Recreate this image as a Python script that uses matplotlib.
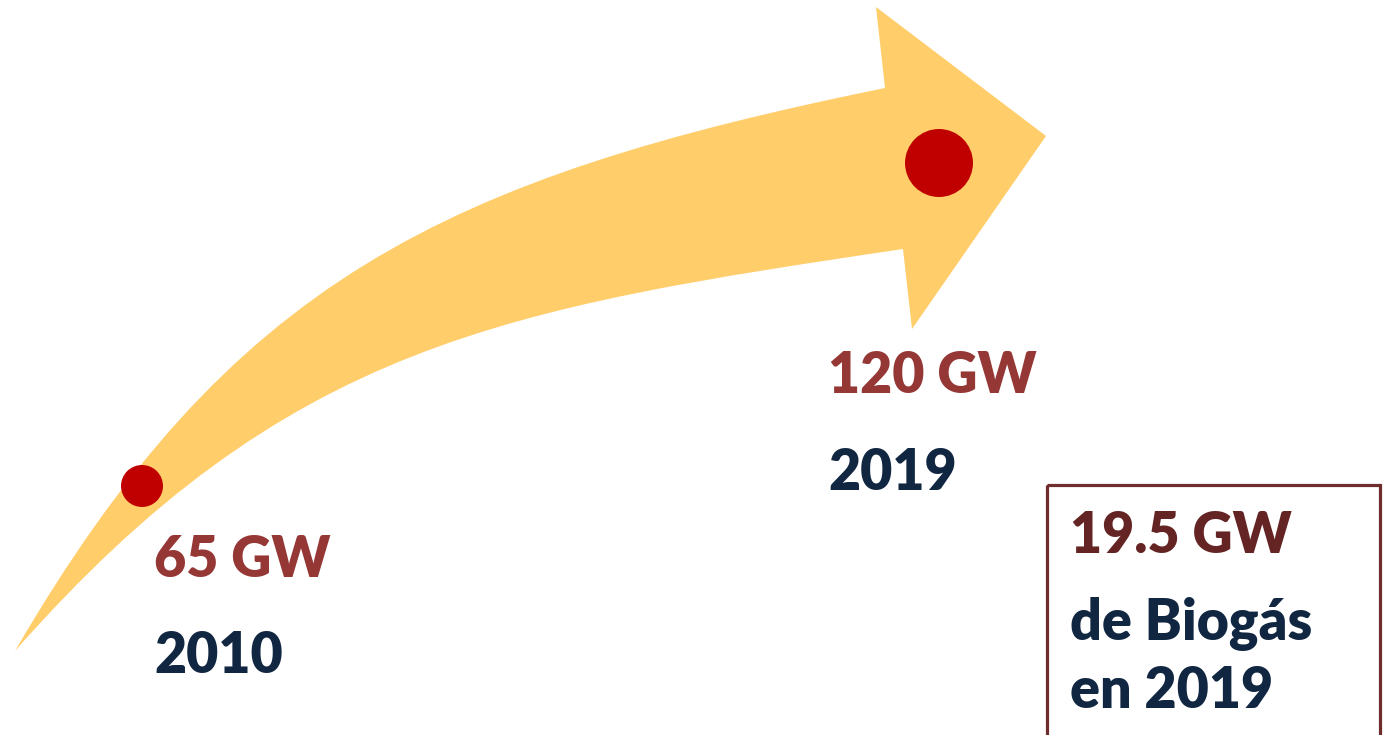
import matplotlib.pyplot as plt
from matplotlib.path import Path
from matplotlib.patches import PathPatch, Circle, Rectangle

# data
capacity_gw = [65, 120]
years = [2010, 2019]
biogas_gw = 19.5
biogas_year = 2019

# colours
ARROW = "#FFCD69"
DOT = "#C00000"
VALUE = "#953735"
NAVY = "#112641"
BOX_RED = "#652424"
BOX_EDGE = "#6E2C2C"

FONT = "Lato"
WEIGHT = "heavy"

fig = plt.figure(figsize=(13.85, 7.35), dpi=100)
ax = fig.add_axes([0, 0, 1, 1])
ax.set_xlim(0, 1385)
ax.set_ylim(735, 0)
ax.axis("off")

# curved arrow (pixel layout)
tail = (15, 651)
upper = [(230, 281), (444, 178), (885, 88)]
head = [(876, 7), (1046, 136), (912, 329), (903, 249)]
lower = [(506, 308), (286, 343), tail]

verts = [tail] + upper + head + lower
codes = ([Path.MOVETO] + [Path.CURVE4] * 3 + [Path.LINETO] * 4
         + [Path.CURVE4] * 3)
ax.add_patch(PathPatch(Path(verts, codes), facecolor=ARROW, edgecolor="none"))

# milestone dots and labels
dot_pos = [(142, 486), (939, 163)]
dot_r = [21, 34]
label_x = [154, 828]
value_base = [577, 393]
year_base = [673, 490]

for i in range(len(capacity_gw)):
    ax.add_patch(Circle(dot_pos[i], dot_r[i], facecolor=DOT, edgecolor="none"))
    ax.text(label_x[i], value_base[i], f"{capacity_gw[i]} GW", color=VALUE,
            fontsize=40, fontweight=WEIGHT, family=FONT, va="baseline")
    ax.text(label_x[i], year_base[i], str(years[i]), color=NAVY,
            fontsize=40, fontweight=WEIGHT, family=FONT, va="baseline")

# biogas box
ax.add_patch(Rectangle((1047, 485), 333, 300, facecolor="none",
                       edgecolor=BOX_EDGE, linewidth=2.3))
box_lines = [f"{biogas_gw} GW", "de Biogás", f"en {biogas_year}"]
box_colors = [BOX_RED, NAVY, NAVY]
box_base = [553, 640, 708]
for txt, c, yb in zip(box_lines, box_colors, box_base):
    ax.text(1070, yb, txt, color=c, fontsize=40, fontweight=WEIGHT,
            family=FONT, va="baseline")

fig.savefig("out.png", dpi=100)
